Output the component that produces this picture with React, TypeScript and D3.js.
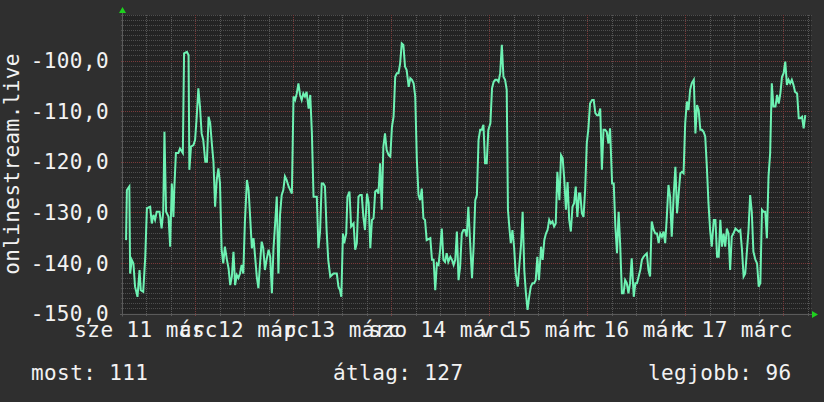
import React from "react";
import * as d3 from "d3";

const W = 824;
const H = 402;

// hours since 2020-03-11 00:00
const hours = [
  7.1, 7.3, 7.9, 8.1, 8.5, 8.9, 9.3, 9.9, 10.4, 10.7, 11.3, 11.8, 12.2, 13.0, 13.4, 13.8, 14.2, 14.6, 15.3, 15.8,
  16.2, 16.5, 16.9, 17.5, 17.9, 18.3, 18.7, 18.9, 19.3, 19.9, 20.3, 21.0, 21.3, 22.0, 22.4, 22.6, 23.0, 23.6, 24.0, 24.4,
  24.8, 25.2, 25.6, 26.0, 26.5, 26.9, 27.3, 27.7, 28.1, 28.5, 28.9, 29.3, 29.7, 30.1, 30.5, 30.9, 31.3, 31.8, 32.2, 32.6,
  33.0, 33.4, 33.8, 34.2, 34.6, 35.0, 35.4, 35.8, 36.2, 36.7, 37.1, 37.5, 37.9, 38.3, 38.7, 39.1, 39.5, 39.9, 40.3, 40.7,
  41.1, 41.5, 42.0, 42.4, 42.8, 43.2, 43.6, 44.0, 44.4, 44.8, 45.2, 45.6, 46.0, 46.4, 46.9, 47.3, 47.7, 48.1, 48.5, 48.9,
  49.3, 49.7, 50.1, 50.5, 50.9, 51.3, 51.8, 52.2, 52.6, 53.0, 53.4, 53.8, 54.2, 54.6, 55.0, 55.4, 55.8, 56.2, 56.6, 57.1,
  57.9, 58.7, 59.1, 59.5, 59.8, 60.2, 60.5, 61.0, 61.3, 61.8, 62.2, 62.8, 63.2, 63.6, 64.0, 64.4, 64.8, 65.2, 65.6, 66.1,
  66.5, 66.9, 67.3, 67.7, 68.1, 68.5, 68.9, 69.3, 69.7, 70.1, 70.5, 70.9, 71.4, 71.8, 72.2, 72.6, 73.0, 73.4, 73.8, 74.2,
  74.6, 75.0, 75.4, 75.8, 76.3, 76.7, 77.1, 77.5, 77.9, 78.3, 78.7, 79.1, 79.5, 79.9, 80.3, 80.7, 81.6, 82.0, 82.4, 82.8,
  83.2, 83.6, 84.0, 84.4, 84.8, 85.2, 85.6, 86.0, 86.5, 86.9, 87.3, 87.7, 88.1, 88.5, 88.9, 89.3, 89.7, 90.1, 90.5, 90.9,
  91.4, 91.8, 92.2, 92.6, 93.0, 93.4, 93.8, 94.2, 94.6, 95.0, 95.4, 95.8, 96.3, 96.7, 97.1, 97.5, 97.9, 98.3, 98.7, 99.1,
  99.5, 99.9, 100.3, 100.6, 101.0, 101.3, 101.7, 102.1, 102.5, 103.0, 103.4, 103.8, 104.2, 104.6, 105.0, 105.4, 105.8, 106.2, 106.6, 107.0,
  107.4, 107.8, 108.2, 108.7, 109.1, 109.5, 109.9, 110.3, 110.7, 111.1, 111.5, 111.9, 112.3, 112.7, 113.2, 113.6, 114.0, 114.4, 114.8, 115.2,
  115.6, 116.0, 116.4, 116.8, 117.2, 117.6, 118.0, 118.3, 118.7, 119.1, 119.5, 119.9, 120.3, 120.7, 121.2, 121.6, 122.0, 122.4, 122.8, 123.2,
  123.6, 124.0, 124.4, 124.8, 125.2, 125.6, 126.1, 126.5, 126.9, 127.3, 127.7, 128.1, 128.5, 128.9, 129.3, 129.7, 130.1, 130.5, 130.9, 131.4,
  131.8, 132.2, 132.6, 133.0, 133.4, 133.8, 134.2, 134.6, 135.0, 135.4, 135.8, 136.3, 136.7, 137.1, 137.5, 137.9, 138.3, 138.7, 139.1, 139.5,
  139.9, 140.3, 140.7, 141.2, 141.6, 142.0, 142.4, 142.8, 143.2, 143.6, 144.0, 144.4, 144.8, 145.2, 145.6, 146.1, 146.5, 146.9, 147.3, 147.7,
  148.1, 148.5, 148.9, 149.3, 149.7, 150.1, 150.5, 151.0, 151.4, 151.8, 152.2, 152.6, 153.0, 153.4, 153.8, 154.2, 154.6, 155.0, 155.4, 155.8,
  156.3, 156.7, 157.1, 157.5, 157.9, 158.3, 158.7, 159.1, 159.5, 159.9, 160.3, 160.7, 161.2, 161.6, 162.0, 162.4, 162.8, 163.2, 163.6, 164.0,
  164.4, 164.8, 165.2, 165.6, 166.1, 166.5, 166.9, 167.3, 167.7, 168.1, 168.5, 168.9, 169.3, 169.7, 170.1, 170.5, 170.9, 171.4, 171.8, 172.2,
  172.6, 173.0, 173.4,
];

const values = [
  -135.5, -125.6, -124.9, -142.1, -139.4, -140.1, -144.7, -146.7, -141.4, -145.4, -145.7, -138.8, -129.2, -128.9, -132.2, -130.5, -131.5, -129.9, -129.9, -133.2,
  -129.9, -114.1, -129.9, -130.9, -136.8, -124.3, -130.9, -125.6, -118.3, -118.3, -117.4, -118.3, -98.6, -98.3, -98.9, -121.6, -117.0, -116.7, -115.7, -111.1,
  -105.5, -109.1, -114.4, -115.7, -120.0, -120.0, -111.1, -112.4, -116.4, -120.0, -128.9, -123.6, -121.3, -124.3, -137.4, -140.1, -136.8, -139.4, -141.1, -144.4,
  -142.7, -137.8, -144.4, -142.4, -143.0, -142.1, -140.4, -142.1, -131.8, -123.6, -125.6, -131.2, -137.1, -135.1, -138.8, -142.7, -145.0, -140.1, -135.8, -137.1,
  -141.4, -139.4, -137.4, -138.8, -146.0, -137.1, -132.2, -126.9, -142.1, -130.5, -126.6, -125.6, -122.9, -123.6, -124.9, -125.6, -126.3, -107.1, -107.8, -106.5,
  -104.5, -106.8, -107.8, -106.5, -107.1, -106.2, -109.5, -106.8, -114.4, -126.9, -126.9, -126.9, -137.1, -133.8, -124.3, -124.3, -124.9, -133.5, -139.4, -142.7,
  -142.1, -142.1, -144.7, -145.4, -146.7, -134.2, -136.1, -134.2, -126.9, -125.9, -132.8, -132.2, -137.4, -136.1, -126.9, -126.6, -126.6, -130.9, -133.5, -126.3,
  -128.2, -137.1, -131.5, -131.2, -125.9, -125.6, -126.3, -120.3, -129.5, -117.0, -114.4, -117.7, -118.7, -119.0, -113.1, -111.1, -103.2, -102.5, -102.5, -100.6,
  -96.6, -96.9, -101.2, -101.9, -105.2, -103.5, -103.8, -104.5, -107.1, -119.7, -126.6, -127.6, -125.3, -131.2, -131.5, -135.5, -135.1, -139.4, -139.4, -145.4,
  -140.1, -140.4, -137.4, -133.2, -139.4, -139.8, -138.1, -139.8, -138.8, -139.4, -140.4, -139.4, -133.8, -143.4, -140.7, -134.2, -133.5, -133.5, -134.8, -128.9,
  -136.8, -143.0, -136.8, -127.6, -126.6, -115.7, -113.7, -113.7, -112.7, -120.3, -120.3, -113.7, -112.4, -105.5, -104.2, -103.8, -103.8, -104.2, -102.5, -96.9,
  -103.2, -103.8, -105.8, -129.5, -133.5, -136.1, -133.5, -136.8, -142.1, -144.7, -140.4, -136.5, -129.9, -141.4, -146.0, -149.3, -146.7, -144.7, -144.0, -144.0,
  -143.4, -138.8, -143.4, -136.8, -139.4, -135.5, -134.2, -133.5, -131.5, -132.2, -131.8, -132.8, -132.2, -122.0, -127.6, -118.7, -119.3, -123.6, -129.5, -124.0,
  -131.5, -133.8, -128.9, -128.2, -124.9, -130.9, -126.3, -126.3, -130.2, -130.9, -125.6, -116.4, -113.4, -108.5, -107.8, -107.8, -110.4, -110.8, -110.8, -109.5,
  -121.6, -113.7, -113.7, -114.1, -116.4, -113.4, -124.3, -124.3, -132.8, -138.1, -129.9, -136.8, -146.0, -146.0, -143.4, -144.0, -146.0, -144.0, -139.1, -146.7,
  -144.0, -144.0, -142.7, -141.4, -139.4, -138.8, -138.4, -138.1, -141.4, -142.7, -131.8, -133.5, -134.2, -134.2, -136.1, -134.2, -134.8, -133.8, -136.1, -130.9,
  -124.6, -126.9, -134.8, -126.3, -121.0, -130.2, -126.3, -122.3, -122.0, -122.3, -112.4, -108.1, -109.8, -105.8, -104.5, -103.8, -114.4, -108.8, -109.8, -113.7,
  -113.7, -114.1, -115.0, -121.0, -128.2, -133.5, -136.8, -131.5, -131.5, -138.8, -138.8, -131.5, -136.8, -134.2, -136.8, -133.2, -134.2, -141.4, -134.8, -134.2,
  -133.2, -133.5, -133.8, -133.5, -137.4, -142.7, -142.1, -137.8, -133.5, -126.6, -129.9, -137.8, -139.4, -140.1, -144.7, -144.0, -129.5, -129.9, -129.9, -135.1,
  -122.9, -118.3, -104.5, -109.1, -109.1, -106.8, -108.5, -106.5, -103.2, -102.5, -100.2, -104.8, -103.8, -104.5, -103.8, -104.8, -106.2, -106.5, -111.4, -111.4,
  -111.1, -113.4, -110.8,
];

const yTicks = [-150, -140, -130, -120, -110, -100];
const yTickLabels = ["-150,0", "-140,0", "-130,0", "-120,0", "-110,0", "-100,0"];
const dayNoonHours = [12, 36, 60, 84, 108, 132, 156];
const dayLabels = ["sze 11 márc", "cs 12 márc", "p 13 márc", "szo 14 márc", "v 15 márc", "h 16 márc", "k 17 márc"];
const yTitle = "onlinestream.live";
const legendItems = ["most: 111", "átlag: 127", "legjobb: 96"];

const FONT = "'DejaVu Sans Mono', monospace";

export default function App() {
  const left = 123;
  const right = 811;
  const top = 15;
  const bottom = 313.5;

  const x = d3.scaleLinear().domain([6.35, 174.8]).range([left, right]);
  const y = d3.scaleLinear().domain([-150, -91]).range([bottom, top]);

  const line = d3
    .line<number>()
    .x((_, i) => x(hours[i]))
    .y((d) => y(d));

  const minorY = d3.range(-150, -90, 1).filter((v) => v % 10 !== 0);
  const majorY = d3.range(-150, -90, 10);
  const minorX = d3.range(12, 175, 6).filter((h) => h % 24 !== 0 && x(h) > left + 1);
  const majorX = d3.range(24, 175, 24);

  const px = (v: number) => Math.round(v) + 0.5;

  const textStyle = {
    fontFamily: FONT,
    fontSize: 21,
    letterSpacing: 0.4,
    fill: "#f2f2f2",
  } as React.CSSProperties;

  return (
    <svg
      width={W}
      height={H}
      style={{ position: "fixed", left: 0, top: 0, display: "block" }}
    >
      <rect x={0} y={0} width={W} height={H} fill="#2f2f2f" />
      <rect x={left} y={top} width={right - left} height={bottom - top} fill="#232323" />

      {/* minor horizontal grid */}
      {minorY.map((v) => (
        <line
          key={"my" + v}
          x1={left - 2}
          x2={right + 2}
          y1={px(y(v))}
          y2={px(y(v))}
          stroke="#4e4e4e"
          strokeDasharray="1,1"
        />
      ))}
      {/* minor vertical grid */}
      {minorX.map((h) => (
        <line
          key={"mx" + h}
          x1={px(x(h))}
          x2={px(x(h))}
          y1={top}
          y2={bottom + 3}
          stroke="#585858"
          strokeDasharray="1,1"
        />
      ))}
      {/* major horizontal grid */}
      {majorY.map((v) => (
        <line
          key={"My" + v}
          x1={left - 2}
          x2={right + 2}
          y1={px(y(v))}
          y2={px(y(v))}
          stroke="#7a3a3a"
          strokeDasharray="1,1"
        />
      ))}
      {/* major vertical grid */}
      {majorX.map((h) => (
        <line
          key={"Mx" + h}
          x1={px(x(h))}
          x2={px(x(h))}
          y1={top}
          y2={bottom + 3}
          stroke="#7a3a3a"
          strokeDasharray="1,1"
        />
      ))}

      {/* axes */}
      <line x1={left - 0.5} x2={left - 0.5} y1={top - 3} y2={bottom + 3} stroke="#5a5a5a" />
      <line x1={left - 3} x2={right + 3} y1={bottom + 1} y2={bottom + 1} stroke="#5a5a5a" />
      <polygon points={`${left - 4},${top - 2} ${left + 3},${top - 2} ${left - 0.5},${top - 8}`} fill="#1ed21e" />
      <polygon points={`${right + 1},${bottom - 2.5} ${right + 1},${bottom + 4.5} ${right + 7},${bottom + 1}`} fill="#1ed21e" />

      {/* data line */}
      <path d={line(values) ?? ""} fill="none" stroke="#6ef2b3" strokeWidth={2} strokeLinejoin="miter" />

      {/* y tick labels */}
      {yTicks.map((v, i) => (
        <text key={"yt" + v} x={109} y={y(v) + 7.6} textAnchor="end" style={textStyle}>
          {yTickLabels[i]}
        </text>
      ))}

      {/* y title */}
      <text
        transform={`translate(18.5, 164) rotate(-90)`}
        textAnchor="middle"
        style={textStyle}
      >
        {yTitle}
      </text>

      {/* x labels */}
      {dayNoonHours.map((h, i) => (
        <text key={"xl" + i} x={x(h)} y={337} textAnchor="middle" style={textStyle}>
          {dayLabels[i]}
        </text>
      ))}

      {/* legend */}
      <text x={31} y={380} style={textStyle}>{legendItems[0]}</text>
      <text x={333} y={380} style={textStyle}>{legendItems[1]}</text>
      <text x={648} y={380} style={textStyle}>{legendItems[2]}</text>
    </svg>
  );
}
